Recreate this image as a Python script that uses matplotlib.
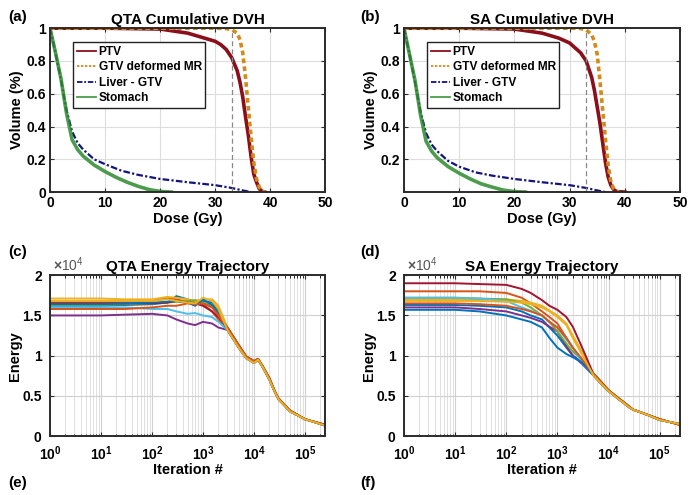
import matplotlib
matplotlib.use("Agg")
import matplotlib.pyplot as plt
from matplotlib.ticker import FixedLocator, LogLocator, NullFormatter

plt.rcParams['font.family'] = ['Liberation Sans', 'DejaVu Sans']
plt.rcParams['font.weight'] = 'bold'
plt.rcParams['axes.labelweight'] = 'bold'
plt.rcParams['axes.titleweight'] = 'bold'
plt.rcParams['mathtext.fontset'] = 'custom'
plt.rcParams['mathtext.rm'] = 'Liberation Sans:bold'
plt.rcParams['mathtext.bf'] = 'Liberation Sans:bold'
plt.rcParams['mathtext.default'] = 'bf'

# ---- DVH data (dose in Gy, volume fraction) ----
ptv_dose_a = [0, 10, 20, 25, 28, 30, 31, 32, 33, 34, 34.5, 35, 35.5, 36, 36.5, 37, 37.5, 38, 38.5, 39]
ptv_vol_a = [1, 1, 0.995, 0.97, 0.94, 0.92, 0.9, 0.87, 0.82, 0.74, 0.67, 0.58, 0.46, 0.35, 0.22, 0.11, 0.06, 0.02, 0.005, 0]
gtv_dose_a = [0, 20, 30, 32, 33, 34, 34.5, 35, 35.5, 36, 36.5, 37, 37.5, 38, 38.5, 39]
gtv_vol_a = [1, 1, 1, 0.998, 0.99, 0.97, 0.93, 0.85, 0.7, 0.52, 0.34, 0.18, 0.08, 0.03, 0.005, 0]
liver_dose_a = [0, 1, 2, 3, 4, 5, 6, 8, 10, 13, 16, 20, 25, 30, 33, 35, 36.5]
liver_vol_a = [1, 0.85, 0.68, 0.5, 0.37, 0.3, 0.26, 0.2, 0.17, 0.13, 0.105, 0.08, 0.06, 0.042, 0.025, 0.01, 0]
stom_dose_a = [0, 1, 2, 3, 4, 5, 6, 8, 10, 12, 14, 16, 18, 20, 22]
stom_vol_a = [1, 0.85, 0.69, 0.48, 0.32, 0.26, 0.22, 0.165, 0.125, 0.09, 0.06, 0.035, 0.015, 0.004, 0]

ptv_dose_b = [0, 10, 20, 25, 28, 30, 31, 32, 33, 34, 34.5, 35, 35.5, 36, 36.5, 37, 37.5, 38, 38.5, 40]
ptv_vol_b = [1, 1, 0.995, 0.97, 0.94, 0.91, 0.88, 0.85, 0.8, 0.7, 0.62, 0.52, 0.42, 0.3, 0.18, 0.09, 0.04, 0.015, 0.003, 0]
gtv_dose_b = [0, 20, 30, 32, 33, 34, 34.5, 35, 35.5, 36, 36.5, 37, 37.5, 38, 38.5, 39]
gtv_vol_b = [1, 1, 1, 0.998, 0.99, 0.96, 0.92, 0.84, 0.68, 0.5, 0.32, 0.16, 0.06, 0.02, 0.004, 0]
liver_dose_b = [0, 1, 2, 3, 4, 5, 6, 8, 10, 13, 16, 20, 25, 30, 33, 35, 36.5]
liver_vol_b = [1, 0.84, 0.67, 0.49, 0.36, 0.29, 0.25, 0.19, 0.155, 0.12, 0.1, 0.08, 0.06, 0.042, 0.025, 0.01, 0]
stom_dose_b = [0, 1, 2, 3, 4, 5, 6, 8, 10, 12, 14, 16, 18, 20, 22]
stom_vol_b = [1, 0.84, 0.68, 0.47, 0.31, 0.25, 0.21, 0.155, 0.115, 0.08, 0.05, 0.03, 0.012, 0.003, 0]

rx_dose = 33

# ---- Energy trajectories (energy in units of 1e4) ----
iters = [1, 3, 10, 30, 100, 200, 300, 500, 700, 1000, 1500, 2000,
         3000, 5000, 7000, 10000, 12000, 15000, 20000, 25000, 30000, 50000, 100000, 250000]

qta_tail_1 = [1.35, 1.13, 0.99, 0.93, 0.96, 0.86, 0.72, 0.57, 0.47, 0.32, 0.21, 0.14]
qta_tail_2 = [1.32, 1.10, 0.97, 0.91, 0.95, 0.85, 0.70, 0.56, 0.46, 0.31, 0.21, 0.13]
qta_heads = [
    [1.62, 1.62, 1.62, 1.63, 1.64, 1.66, 1.74, 1.70, 1.66, 1.68, 1.66, 1.55],
    [1.66, 1.66, 1.66, 1.67, 1.68, 1.72, 1.70, 1.67, 1.66, 1.64, 1.55, 1.45],
    [1.71, 1.71, 1.71, 1.70, 1.70, 1.73, 1.72, 1.70, 1.68, 1.70, 1.70, 1.62],
    [1.50, 1.50, 1.50, 1.51, 1.52, 1.50, 1.45, 1.40, 1.38, 1.42, 1.40, 1.35],
    [1.63, 1.63, 1.63, 1.64, 1.65, 1.66, 1.67, 1.68, 1.69, 1.66, 1.62, 1.50],
    [1.60, 1.60, 1.60, 1.60, 1.58, 1.58, 1.55, 1.52, 1.53, 1.50, 1.48, 1.42],
    [1.65, 1.65, 1.65, 1.65, 1.65, 1.66, 1.68, 1.66, 1.65, 1.62, 1.55, 1.48],
    [1.64, 1.64, 1.64, 1.65, 1.66, 1.67, 1.68, 1.66, 1.62, 1.70, 1.63, 1.52],
    [1.58, 1.58, 1.58, 1.58, 1.60, 1.62, 1.62, 1.65, 1.64, 1.65, 1.60, 1.50],
    [1.68, 1.68, 1.68, 1.68, 1.68, 1.70, 1.68, 1.66, 1.65, 1.72, 1.68, 1.58],
]

sa_tail_1 = [0.78, 0.68, 0.57, 0.53, 0.48, 0.42, 0.37, 0.33, 0.28, 0.21, 0.14]
sa_tail_2 = [0.76, 0.66, 0.56, 0.52, 0.47, 0.41, 0.36, 0.33, 0.28, 0.20, 0.15]
sa_heads = [
    [1.63, 1.63, 1.63, 1.62, 1.60, 1.55, 1.50, 1.45, 1.35, 1.25, 1.10, 1.00, 0.92],
    [1.80, 1.80, 1.80, 1.80, 1.78, 1.72, 1.65, 1.55, 1.48, 1.40, 1.22, 1.10, 0.95],
    [1.70, 1.70, 1.70, 1.70, 1.70, 1.68, 1.66, 1.62, 1.56, 1.50, 1.40, 1.25, 1.05],
    [1.60, 1.60, 1.60, 1.58, 1.55, 1.50, 1.47, 1.42, 1.36, 1.30, 1.12, 1.00, 0.90],
    [1.72, 1.72, 1.72, 1.71, 1.70, 1.66, 1.60, 1.50, 1.42, 1.30, 1.15, 1.05, 0.95],
    [1.72, 1.72, 1.72, 1.71, 1.68, 1.60, 1.56, 1.50, 1.42, 1.35, 1.20, 1.10, 0.92],
    [1.90, 1.90, 1.90, 1.89, 1.88, 1.83, 1.78, 1.69, 1.62, 1.57, 1.48, 1.36, 1.11],
    [1.57, 1.57, 1.57, 1.55, 1.50, 1.45, 1.42, 1.35, 1.22, 1.10, 1.02, 0.98, 0.92],
    [1.65, 1.65, 1.65, 1.64, 1.62, 1.58, 1.55, 1.50, 1.42, 1.35, 1.22, 1.10, 0.96],
    [1.68, 1.68, 1.68, 1.68, 1.67, 1.66, 1.64, 1.60, 1.55, 1.48, 1.38, 1.22, 1.02],
]

matlab_colors = ['#0072BD', '#D95319', '#EDB120', '#7E2F8E', '#77AC30',
                 '#4DBEEE', '#A2142F', '#0072BD', '#D95319', '#EDB120']

fig = plt.figure(figsize=(6.9, 4.95), dpi=100)

ax_a = fig.add_axes([0.0725, 0.612, 0.399, 0.331])
ax_b = fig.add_axes([0.5855, 0.612, 0.400, 0.331])
ax_c = fig.add_axes([0.0725, 0.119, 0.399, 0.325])
ax_d = fig.add_axes([0.5855, 0.119, 0.400, 0.325])


def style_axes(ax):
    for s in ax.spines.values():
        s.set_color('#2b2b2b')
        s.set_linewidth(1.4)
    ax.tick_params(direction='in', top=True, right=True, labelsize=10,
                   length=3, width=0.8, colors='#2b2b2b', labelcolor='black', pad=3)
    ax.tick_params(which='minor', direction='in', top=True, right=True, length=1.8)
    for t in ax.get_xticklabels() + ax.get_yticklabels():
        t.set_fontweight('bold')
    ax.set_axisbelow(True)


def dvh_panel(ax, title, data, show_zero):
    ptv_d, ptv_v, gtv_d, gtv_v, liv_d, liv_v, st_d, st_v = data
    ax.plot(ptv_d, ptv_v, color='#8B0F1A', lw=2.6, label='PTV')
    ax.plot(gtv_d, gtv_v, color='#D38A1C', lw=2.6, ls=(0, (1.3, 0.9)), label='GTV deformed MR')
    ax.plot(liv_d, liv_v, color='#14147A', lw=1.6, ls=(0, (3, 1, 1, 1)), label='Liver - GTV')
    ax.plot(st_d, st_v, color='#2E8B2E', lw=2.6, alpha=0.85, label='Stomach')
    ax.plot([rx_dose, rx_dose], [0, 0.98], color='#888888', lw=0.9, ls=(0, (4, 2.5)))
    ax.set_xlim(0, 50)
    ax.set_ylim(0, 1)
    ax.set_xticks([0, 10, 20, 30, 40, 50])
    if show_zero:
        ax.set_yticks([0, 0.2, 0.4, 0.6, 0.8, 1])
        ax.set_yticklabels(['0', '0.2', '0.4', '0.6', '0.8', '1'])
    else:
        ax.set_yticks([0.2, 0.4, 0.6, 0.8, 1])
        ax.set_yticklabels(['0.2', '0.4', '0.6', '0.8', '1'])
    ax.grid(True, color='#dddddd', lw=0.8)
    style_axes(ax)
    ax.set_title(title, fontsize=11, fontweight='bold', pad=3)
    ax.set_xlabel('Dose (Gy)', fontsize=10.5, labelpad=1)
    ax.set_ylabel('Volume (%)', fontsize=10.5, labelpad=2)
    leg = ax.legend(loc='upper left', bbox_to_anchor=(0.085, 0.915), fontsize=8.6,
                    handlelength=1.6, handletextpad=0.2, borderpad=0.3,
                    labelspacing=0.3, fancybox=False, framealpha=1,
                    borderaxespad=0)
    leg.get_frame().set_edgecolor('#222222')
    leg.get_frame().set_linewidth(1.0)
    for h in leg.get_lines():
        h.set_linewidth(1.3)


def energy_panel(ax, title, heads, tails):
    for i, head in enumerate(heads):
        tail = tails[i % 2]
        ax.plot(iters, head + tail, color=matlab_colors[i], lw=1.4)
    last = heads[-1] + tails[(len(heads) - 1) % 2]
    ax.plot([iters[-1], iters[-1]], [last[-1], 0], color=matlab_colors[-1], lw=1.4)
    ax.set_xscale('log')
    ax.set_xlim(1, 2.5e5)
    ax.set_ylim(0, 2)
    ax.set_yticks([0, 0.5, 1, 1.5, 2])
    ax.set_yticklabels(['0', '0.5', '1', '1.5', '2'])
    ax.xaxis.set_major_locator(FixedLocator([1, 10, 100, 1e3, 1e4, 1e5]))
    ax.set_xticklabels(['$10^0$', '$10^1$', '$10^2$', '$10^3$', '$10^4$', '$10^5$'])
    ax.xaxis.set_minor_locator(LogLocator(base=10, subs=range(2, 10), numticks=20))
    ax.xaxis.set_minor_formatter(NullFormatter())
    ax.grid(True, which='major', color='#d0d0d0', lw=0.8)
    ax.grid(True, which='minor', axis='x', color='#e0e0e0', lw=0.7)
    style_axes(ax)
    ax.tick_params(axis='x', pad=6)
    ax.tick_params(axis='y', pad=6)
    ax.set_title(title, fontsize=11, fontweight='bold', pad=3)
    ax.set_xlabel('Iteration #', fontsize=10.5, labelpad=0)
    ax.set_ylabel('Energy', fontsize=10.5, labelpad=0)
    ax.text(0.01, 1.01, r'$\times\mathregular{10^4}$', transform=ax.transAxes,
            fontsize=10, fontweight='normal', color='#555555', va='bottom', ha='left')


dvh_panel(ax_a, 'QTA Cumulative DVH',
          (ptv_dose_a, ptv_vol_a, gtv_dose_a, gtv_vol_a,
           liver_dose_a, liver_vol_a, stom_dose_a, stom_vol_a), True)
dvh_panel(ax_b, 'SA Cumulative DVH',
          (ptv_dose_b, ptv_vol_b, gtv_dose_b, gtv_vol_b,
           liver_dose_b, liver_vol_b, stom_dose_b, stom_vol_b), False)

energy_panel(ax_c, 'QTA Energy Trajectory', qta_heads, [qta_tail_1, qta_tail_2])
energy_panel(ax_d, 'SA Energy Trajectory', sa_heads, [sa_tail_1, sa_tail_2])

# panel letters
for lbl, x, y in [('(a)', 0.012, 0.965), ('(b)', 0.522, 0.965),
                  ('(c)', 0.012, 0.49), ('(d)', 0.522, 0.49),
                  ('(e)', 0.012, 0.025), ('(f)', 0.522, 0.025)]:
    fig.text(x, y, lbl, fontsize=11, fontweight='bold', va='center', ha='left')

fig.savefig('out.png', dpi=100)
